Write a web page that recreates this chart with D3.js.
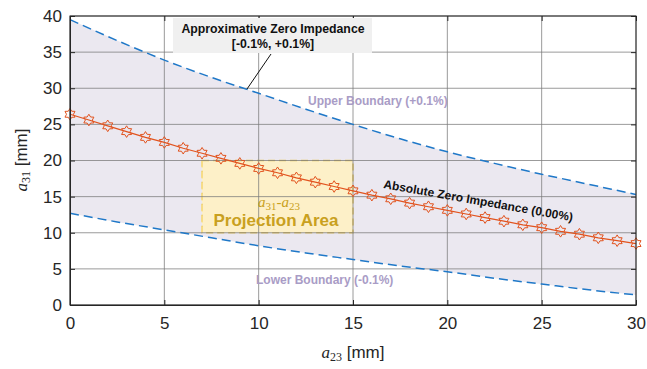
<!DOCTYPE html>
<html><head><meta charset="utf-8">
<script src="https://cdn.jsdelivr.net/npm/d3@7"></script>
<style>body{margin:0;background:#fff}svg{display:block}</style>
</head><body><svg id="c" width="647" height="369"></svg>
<script>
const xTicks=[0,5,10,15,20,25,30];
const yTicks=[0,5,10,15,20,25,30,35,40];
const a23=[0,1,2,3,4,5,6,7,8,9,10,11,12,13,14,15,16,17,18,19,20,21,22,23,24,25,26,27,28,29,30];
const a31=[26.4,25.6,24.8,24.0,23.2,22.5,21.7,21.0,20.3,19.6,18.9,18.3,17.6,17.0,16.4,15.8,15.2,14.7,14.1,13.6,13.1,12.6,12.1,11.6,11.1,10.7,10.2,9.8,9.3,8.9,8.5];
const bX=[0,2.5,5,7.5,10,12.5,15,17.5,20,22.5,25,27.5,30];
const upper=[39.5,36.6,33.9,31.5,29.3,27.1,25.0,23.0,21.2,19.6,18.1,16.7,15.3];
const lower=[12.7,11.5,10.4,9.3,8.2,7.2,6.3,5.4,4.6,3.7,2.9,2.1,1.4];
const proj={x:[7,15],y:[10,20]};

const svg=d3.select("#c");
const L=70,R=636,T=16,B=305;
const x=d3.scaleLinear().domain([0,30]).range([L,R]);
const y=d3.scaleLinear().domain([0,40]).range([B,T]);
const font="'Liberation Sans',Arial,sans-serif";

// fill band
const band=d3.area().x((d,i)=>x(bX[i])).y0((d,i)=>y(lower[i])).y1((d,i)=>y(upper[i])).curve(d3.curveMonotoneX);
svg.append("path").attr("d",band(bX)).attr("fill","#ebe8f0");

// projection area
svg.append("rect").attr("x",x(proj.x[0])).attr("y",y(proj.y[1]))
 .attr("width",x(proj.x[1])-x(proj.x[0])).attr("height",y(proj.y[0])-y(proj.y[1]))
 .attr("fill","#fdf0c8").attr("stroke","#e6c660").attr("stroke-width",1.5).attr("stroke-dasharray","7,4");
svg.append("line").attr("x1",x(proj.x[0])).attr("x2",x(proj.x[0])).attr("y1",y(proj.y[1])).attr("y2",y(proj.y[0]))
 .attr("stroke","#fbe08a").attr("stroke-width",1.5).attr("stroke-dasharray","7,4");

// grid
const g=svg.append("g");
xTicks.forEach(t=>g.append("line").attr("x1",x(t)).attr("x2",x(t)).attr("y1",T).attr("y2",B).attr("stroke","#7a7a7a").attr("stroke-width",1).attr("opacity",0.75));
yTicks.forEach(t=>g.append("line").attr("y1",y(t)).attr("y2",y(t)).attr("x1",L).attr("x2",R).attr("stroke","#7a7a7a").attr("stroke-width",1).attr("opacity",0.75));

// boundaries
const bl=d3.line().x((d,i)=>x(bX[i])).curve(d3.curveMonotoneX);
svg.append("path").attr("d",bl.y((d,i)=>y(upper[i]))(bX)).attr("fill","none").attr("stroke","#1f78c8").attr("stroke-width",1.5).attr("stroke-dasharray","9,5");
svg.append("path").attr("d",bl.y((d,i)=>y(lower[i]))(bX)).attr("fill","none").attr("stroke","#1f78c8").attr("stroke-width",1.5).attr("stroke-dasharray","9,5");

// projection text
const pt=svg.append("text").attr("x",279).attr("y",207).attr("text-anchor","middle").attr("fill","#c9a020")
 .attr("font-family","'Liberation Serif','Times New Roman',serif").attr("font-style","italic").attr("font-size",15);
pt.append("tspan").text("a");
pt.append("tspan").attr("font-style","normal").attr("font-size",11).attr("dy",3).text("31");
pt.append("tspan").attr("font-style","normal").attr("dy",-3).text("-");
pt.append("tspan").text("a");
pt.append("tspan").attr("font-style","normal").attr("font-size",11).attr("dy",3).text("23");
svg.append("text").attr("x",276).attr("y",226).attr("text-anchor","middle").attr("fill","#c9a020")
 .attr("font-family",font).attr("font-weight","bold").attr("font-size",17).text("Projection Area");

// main line
const ml=d3.line().x((d,i)=>x(a23[i])).y((d,i)=>y(a31[i]));
svg.append("path").attr("d",ml(a23)).attr("fill","none").attr("stroke","#e2531e").attr("stroke-width",1.2);
function hexagram(r){const p=[];for(let k=0;k<12;k++){const a=-Math.PI/2+k*Math.PI/6;const rr=k%2?r*0.6:r;p.push([rr*Math.cos(a),rr*Math.sin(a)]);}return "M"+p.map(q=>q.join(",")).join("L")+"Z";}
svg.append("g").selectAll("path").data(a23).join("path")
 .attr("transform",(d,i)=>`translate(${x(d)},${y(a31[i])})`).attr("d",hexagram(5.8))
 .attr("fill","none").attr("stroke","#e2531e").attr("stroke-width",1);

// axes box
svg.append("rect").attr("x",L).attr("y",T).attr("width",R-L).attr("height",B-T).attr("fill","none").attr("stroke","#262626").attr("stroke-width",1);
const ax=svg.append("g").attr("transform",`translate(0,${B})`).call(d3.axisBottom(x).tickValues(xTicks).tickSizeInner(-5).tickSizeOuter(0).tickPadding(12));
const ay=svg.append("g").attr("transform",`translate(${L},0)`).call(d3.axisLeft(y).tickValues(yTicks).tickSizeInner(-5).tickSizeOuter(0).tickPadding(8));
[ax,ay].forEach(a=>{a.select(".domain").attr("stroke","#262626");a.selectAll("line").attr("stroke","#262626");
 a.selectAll("text").attr("font-family",font).attr("font-size",17).attr("fill","#262626");});
svg.append("g").attr("transform",`translate(0,${T})`).call(d3.axisTop(x).tickValues(xTicks).tickSizeInner(-5).tickSizeOuter(0).tickFormat("")).call(a=>{a.select(".domain").remove();a.selectAll("line").attr("stroke","#262626");});
svg.append("g").attr("transform",`translate(${R},0)`).call(d3.axisRight(y).tickValues(yTicks).tickSizeInner(-5).tickSizeOuter(0).tickFormat("")).call(a=>{a.select(".domain").remove();a.selectAll("line").attr("stroke","#262626");});

// axis labels
const xl=svg.append("text").attr("x",353).attr("y",358).attr("text-anchor","middle").attr("fill","#262626").attr("font-size",17);
xl.append("tspan").attr("font-family","'Liberation Serif',serif").attr("font-style","italic").text("a");
xl.append("tspan").attr("font-family","'Liberation Serif',serif").attr("font-size",12).attr("dy",3).text("23");
xl.append("tspan").attr("font-family",font).attr("dy",-3).text(" [mm]");
const yl=svg.append("text").attr("transform","translate(27,160) rotate(-90)").attr("text-anchor","middle").attr("fill","#262626").attr("font-size",17);
yl.append("tspan").attr("font-family","'Liberation Serif',serif").attr("font-style","italic").text("a");
yl.append("tspan").attr("font-family","'Liberation Serif',serif").attr("font-size",12).attr("dy",3).text("31");
yl.append("tspan").attr("font-family",font).attr("dy",-3).text(" [mm]");

// boundary labels
svg.append("text").attr("x",308).attr("y",105).attr("fill","#a99cc6").attr("font-family",font).attr("font-weight","bold").attr("font-size",12).text("Upper Boundary (+0.1%)");
svg.append("text").attr("x",256).attr("y",284).attr("fill","#a99cc6").attr("font-family",font).attr("font-weight","bold").attr("font-size",12).text("Lower Boundary (-0.1%)");
svg.append("text").attr("transform","translate(383,188) rotate(10)").attr("fill","#111").attr("font-family",font).attr("font-weight","bold").attr("font-size",12).text("Absolute  Zero Impedance (0.00%)");

// annotation
svg.append("line").attr("x1",271).attr("y1",54).attr("x2",247).attr("y2",89).attr("stroke","#111").attr("stroke-width",1);
svg.append("rect").attr("x",173).attr("y",18).attr("width",199).attr("height",35).attr("fill","#f0f0f0");
svg.append("text").attr("x",273).attr("y",33).attr("text-anchor","middle").attr("fill","#111").attr("font-family",font).attr("font-weight","bold").attr("font-size",12.3).text("Approximative Zero Impedance");
svg.append("text").attr("x",273).attr("y",48).attr("text-anchor","middle").attr("fill","#111").attr("font-family",font).attr("font-weight","bold").attr("font-size",12.3).text("[-0.1%, +0.1%]");
</script></body></html>
